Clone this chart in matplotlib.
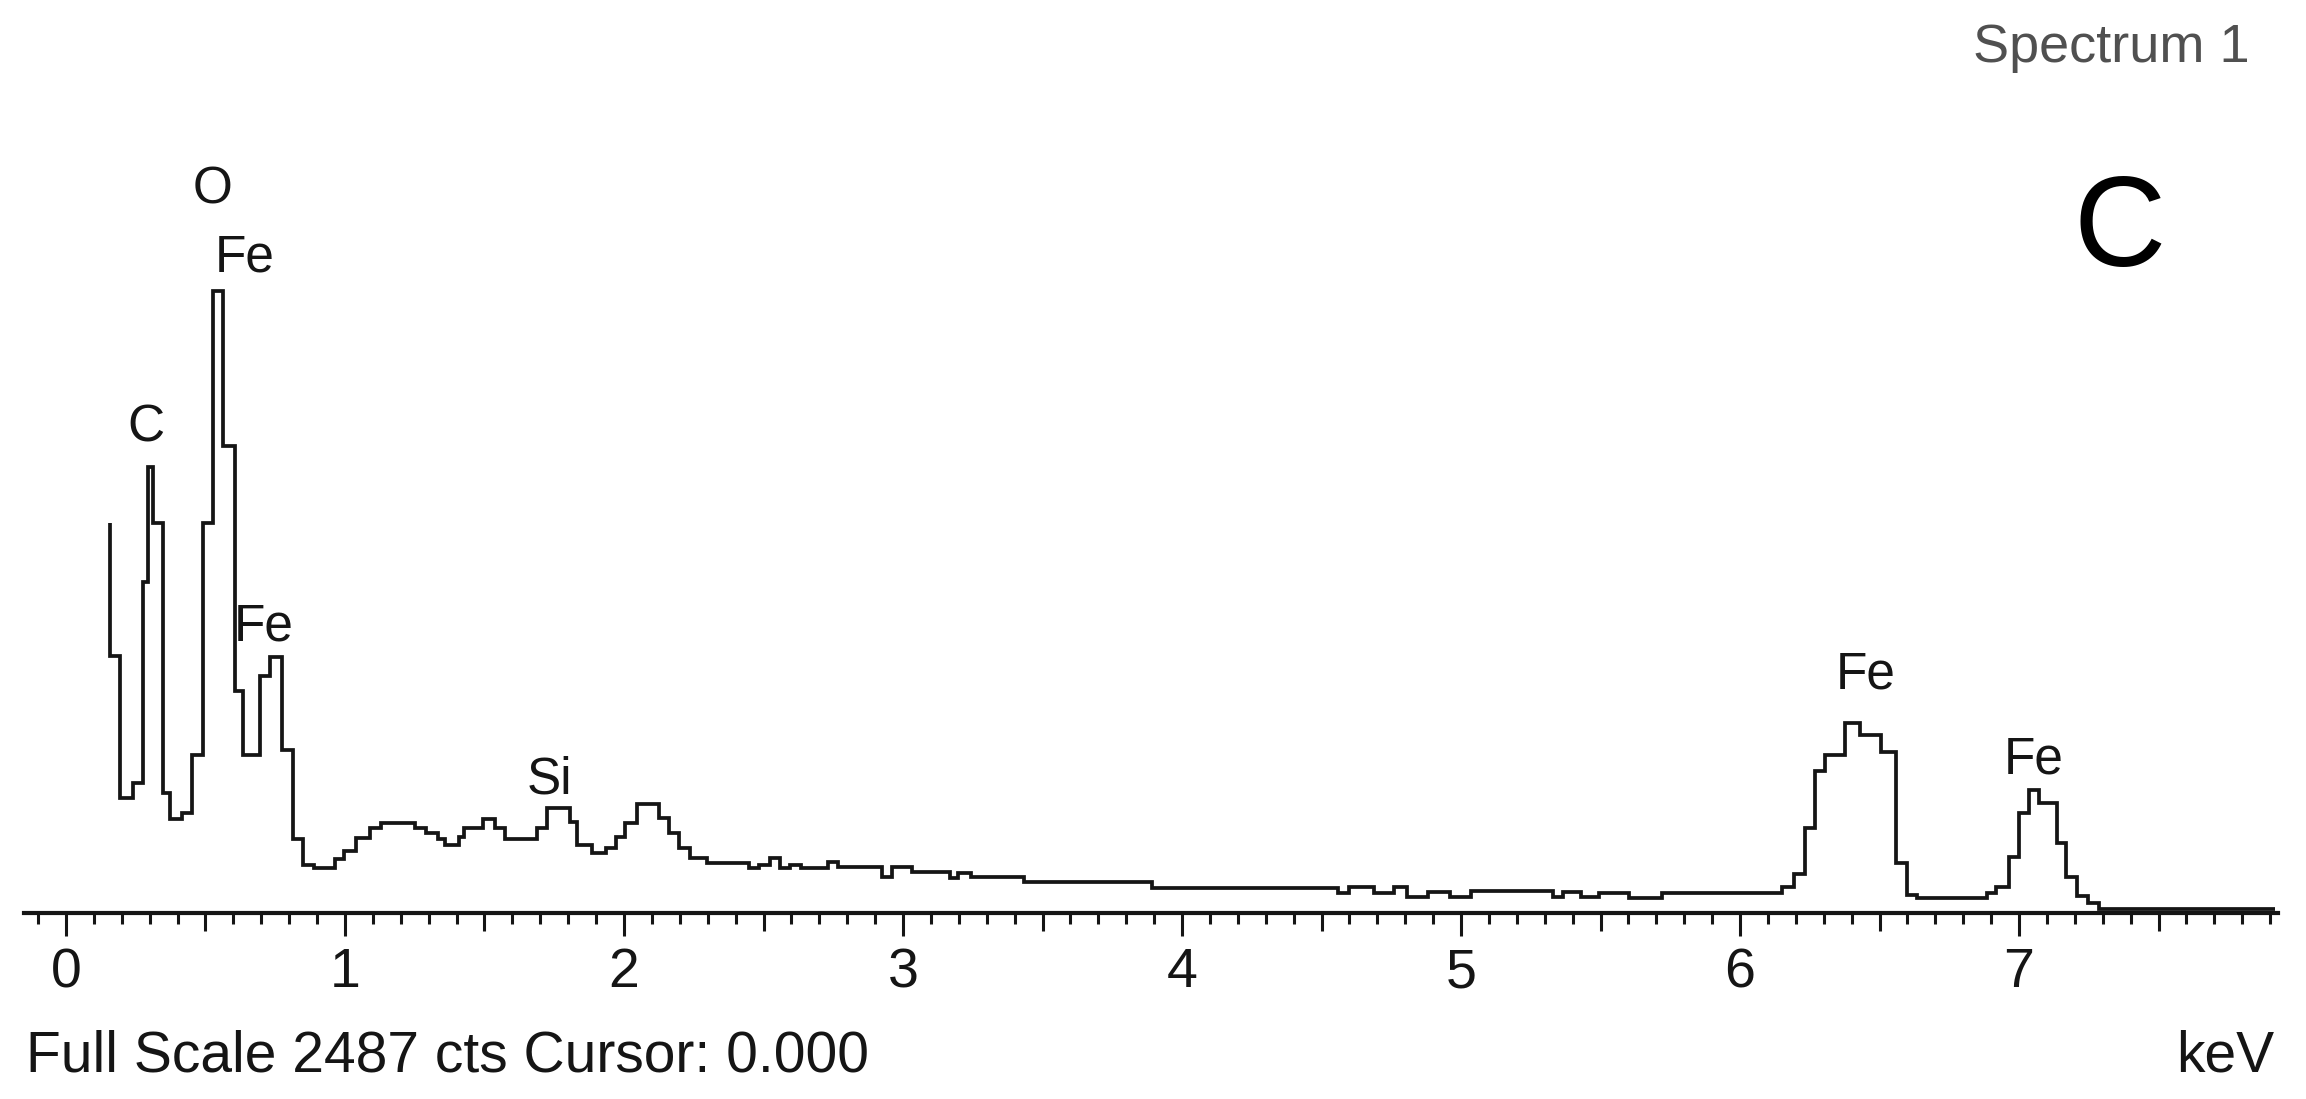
import numpy as np
import matplotlib
matplotlib.use("Agg")
import matplotlib.pyplot as plt
from matplotlib.ticker import FixedLocator

plt.rcParams['font.family'] = ['Liberation Sans', 'DejaVu Sans']

# ---- data ----
edges_kev = [0.158, 0.158, 0.194, 0.241, 0.277, 0.295, 0.313, 0.347, 0.373, 0.415,
             0.450, 0.492, 0.528, 0.564, 0.606, 0.636, 0.695, 0.731, 0.773, 0.812,
             0.851, 0.889, 0.963, 0.998, 1.040, 1.091, 1.130, 1.250, 1.290, 1.332,
             1.359, 1.407, 1.428, 1.496, 1.537, 1.572, 1.688, 1.723, 1.805, 1.832,
             1.887, 1.935, 1.970, 2.004, 2.045, 2.127, 2.161, 2.196, 2.237, 2.299,
             2.449, 2.484, 2.525, 2.559, 2.594, 2.635, 2.732, 2.768, 2.923, 2.960,
             3.033, 3.170, 3.198, 3.243, 3.435, 3.892, 4.560, 4.597, 4.688, 4.761,
             4.807, 4.880, 4.962, 5.036, 5.328, 5.365, 5.429, 5.493, 5.603, 5.721,
             6.152, 6.195, 6.233, 6.270, 6.305, 6.378, 6.431, 6.507, 6.560, 6.599,
             6.636, 6.886, 6.918, 6.963, 6.999, 7.034, 7.072, 7.136, 7.168, 7.209,
             7.249, 7.286, 7.919]
counts = [1193, 786, 352, 398, 1013, 1365, 1193, 367, 288, 306,
          483, 1193, 1903, 1429, 679, 483, 725, 783, 499, 226,
          147, 138, 165, 190, 230, 260, 275, 260, 245, 226,
          208, 233, 260, 288, 260, 226, 260, 321, 278, 208,
          184, 199, 233, 275, 334, 291, 245, 199, 168, 153,
          138, 147, 168, 138, 147, 138, 156, 141, 110, 141,
          125, 107, 122, 110, 95, 77, 61, 80, 61, 80,
          49, 64, 49, 67, 49, 64, 49, 61, 46, 61,
          80, 119, 260, 435, 483, 581, 545, 493, 153, 55,
          46, 61, 80, 171, 306, 376, 337, 214, 110, 52,
          30, 12]

peak_labels = ["O", "Fe", "C", "Fe", "Si", "Fe", "Fe"]
peak_x_kev = [0.527, 0.642, 0.287, 0.710, 1.733, 6.452, 7.054]
peak_y_cts = [2170, 1962, 1441, 835, 366, 688, 427]

major_ticks = [0, 1, 2, 3, 4, 5, 6, 7]
tick_labels = ["0", "1", "2", "3", "4", "5", "6", "7"]
full_scale = 2487
cursor_kev = 0.000
spectrum_name = "Spectrum 1"
panel_letter = "C"
unit = "keV"

# ---- figure ----
fig = plt.figure(figsize=(23.06, 10.99), dpi=100)
ax = fig.add_axes([0.01047, 0.16924, 0.9776, 0.7398])

ax.stairs(counts, edges_kev, baseline=None, color="#151515", linewidth=2.7)

ax.set_xlim(-0.15, 7.93)
ax.set_ylim(0, full_scale)
for s in ["top", "left", "right"]:
    ax.spines[s].set_visible(False)
ax.spines["bottom"].set_linewidth(3.0)
ax.spines["bottom"].set_color("#151515")
ax.set_yticks([])

ax.set_xticks(major_ticks)
ax.set_xticklabels(tick_labels)
all_tenths = np.round(np.arange(-0.1, 7.95, 0.1), 1)
halves = [t for t in all_tenths if abs(t * 2 - round(t * 2)) < 1e-6 and abs(t - round(t)) > 1e-6]
minor = [t for t in all_tenths if abs(t * 2 - round(t * 2)) > 1e-6]
ax.xaxis.set_minor_locator(FixedLocator(minor))
ax.tick_params(axis="x", which="major", length=16.3, width=2.2, direction="out",
               pad=8.5, labelsize=40, color="#151515", labelcolor="#151515")
ax.tick_params(axis="x", which="minor", length=8.0, width=2.2, direction="out",
               color="#151515")

sec = ax.secondary_xaxis("bottom")
sec.set_xticks(halves)
sec.tick_params(axis="x", length=12.7, width=2.2, direction="out",
                labelbottom=False, color="#151515")
sec.spines["bottom"].set_visible(False)

for lab, xk, yc in zip(peak_labels, peak_x_kev, peak_y_cts):
    ax.text(xk, yc, lab, ha="center", va="baseline", fontsize=37, color="#151515")

fig.text(0.9757, 0.9436, spectrum_name, ha="right", va="baseline", fontsize=39,
         color="#505050")
fig.text(0.9193, 0.758, panel_letter, ha="center", va="baseline", fontsize=92,
         color="black")
fig.text(0.01127, 0.02457, f"Full Scale {full_scale} cts Cursor: {cursor_kev:.3f}",
         ha="left", va="baseline", fontsize=41, color="#151515")
fig.text(0.9861, 0.02457, unit, ha="right", va="baseline", fontsize=41,
         color="#151515")

fig.savefig("out.png", dpi=100, facecolor="white")
